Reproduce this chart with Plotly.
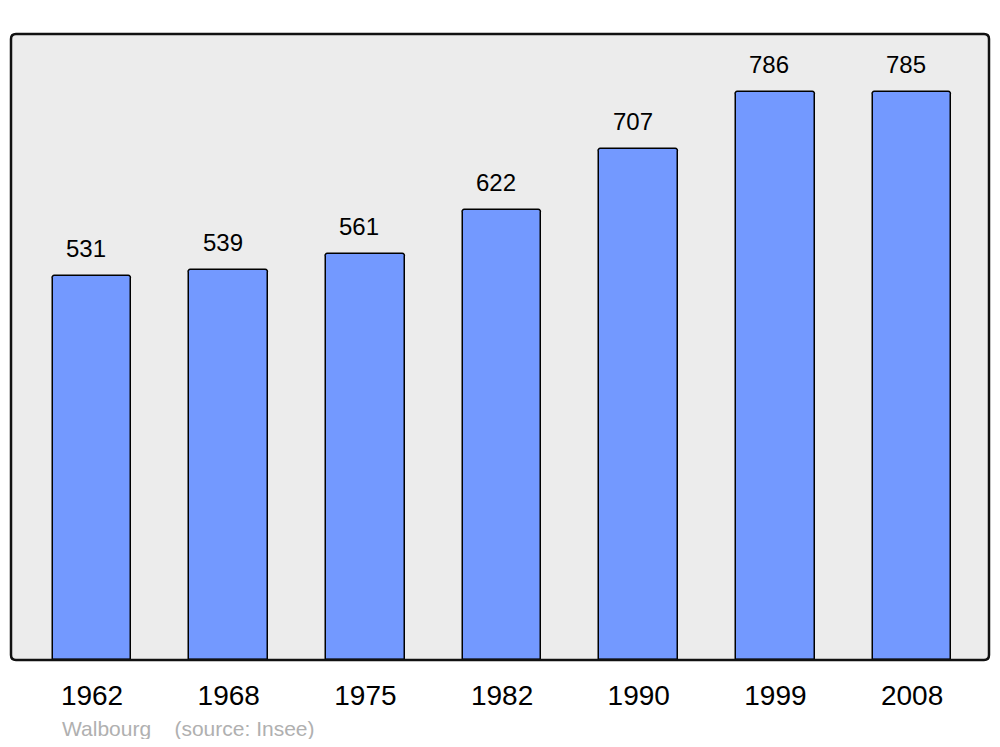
import plotly.graph_objects as go

years = ["1962", "1968", "1975", "1982", "1990", "1999", "2008"]
population = [531, 539, 561, 622, 707, 786, 785]
source_label = "Walbourg\u00a0\u00a0\u00a0\u00a0(source: Insee)"

# page body has an 8px margin; figure is sized to fit the 1000x747 window
OFF = 8
W, H = 1000 - 2 * OFF, 747 - 2 * OFF
L, T = 11 - OFF, 34 - OFF
R = W - (989 - OFF)
B = H - (660 - OFF)
pw, ph = W - L - R, H - T - B

fig = go.Figure()
fig.add_trace(go.Bar(
    x=years, y=population, width=0.575,
    marker=dict(color="#7399FF", line=dict(color="#000000", width=1.5), cornerradius=3),
    hoverinfo="x+y",
))

for i, v in enumerate(population):
    fig.add_annotation(x=i, y=v, text=str(v), showarrow=False, yanchor="bottom",
                       yshift=12, xshift=-6,
                       font=dict(family="Liberation Sans, Arial", size=24, color="#000"))

fig.add_annotation(xref="paper", yref="paper", x=(61 - 11) / pw, y=(660 - 728) / ph,
                   xanchor="left", yanchor="middle", showarrow=False, text=source_label,
                   borderpad=0,
                   font=dict(family="Liberation Sans, Arial", size=21, color="#b0b0b0"))

# rounded border
rx, ry = 5 / pw, 5 / ph
path = (f"M {rx},0 L {1-rx},0 Q 1,0 1,{ry} L 1,{1-ry} Q 1,1 {1-rx},1 "
        f"L {rx},1 Q 0,1 0,{1-ry} L 0,{ry} Q 0,0 {rx},0 Z")
fig.add_shape(type="path", xref="paper", yref="paper", path=path,
              line=dict(color="#111111", width=2.5), layer="above")

fig.update_layout(
    width=W, height=H,
    margin=dict(l=L, r=R, t=T, b=B),
    paper_bgcolor="#ffffff", plot_bgcolor="#ececec",
    showlegend=False, bargap=0,
    font=dict(family="Liberation Sans, Arial", color="#000"),
    xaxis=dict(type="category", range=[-0.593, 6.563], showgrid=False, zeroline=False,
               ticks="outside", ticklen=10, tickcolor="rgba(0,0,0,0)",
               tickfont=dict(size=28, color="#000"), fixedrange=True),
    yaxis=dict(range=[0, 865.6], showgrid=False, zeroline=False, showticklabels=False,
               fixedrange=True),
)

fig.write_html("out.html")
